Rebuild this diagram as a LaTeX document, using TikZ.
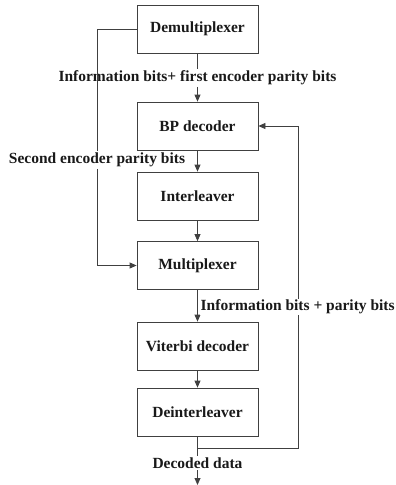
\documentclass[tikz,border=0pt]{standalone}
\usepackage{fontspec}
\setmainfont{Liberation Serif}
\usetikzlibrary{arrows.meta}
\begin{document}
\begin{tikzpicture}[x=1pt,y=-1pt,
 txt/.style={font=\fontsize{15.5}{18}\selectfont\bfseries, text=black!90},
 box/.style={txt, draw=black!75, line width=0.8pt, minimum width=121pt, minimum height=48pt, inner sep=0pt},
 lbl/.style={txt, inner sep=1.5pt},
 conn/.style={draw=black!75, line width=0.8pt},
 arr/.style={conn, -{Triangle[length=7pt,width=6pt]}}]
\useasboundingbox (0,0) rectangle (396,485);
\node[box] (demux) at (197.5,29) {Demultiplexer};
\node[box] (bp) at (197.5,126) {BP decoder};
\node[box] (inter) at (197.5,196) {Interleaver};
\node[box] (mux) at (197.5,265.5) {Multiplexer};
\node[box] (vit) at (197.5,346) {Viterbi decoder};
\node[box] (deint) at (197.5,412) {Deinterleaver};
% labels
\node[lbl] (l1) at (197.5,78) {Information bits+ first encoder parity bits};
\node[lbl] (l2) at (97,160) {Second encoder parity bits};
\node[lbl] (l4) at (197.5,463) {Decoded data};
\coordinate (fb) at (298,448);
\coordinate (out) at (197.5,485);
\coordinate (lc) at (97,29);
% main chain
\draw[conn] (demux.south) -- (l1.north);
\draw[arr] (l1.south) -- (bp.north);
\draw[arr] (bp.south) -- (inter.north);
\draw[arr] (inter.south) -- (mux.north);
\draw[arr] (mux.south) -- (vit.north);
\draw[arr] (vit.south) -- (deint.north);
% feedback
\draw[arr] (deint.south) |- (fb) |- (bp.east);
\draw[conn] (deint.south) -- (l4.north);
\draw[arr] (l4.south) -- (out);
% left bypass
\draw[conn] (demux.west) -- (lc) -- (l2.north);
\draw[arr] (l2.south) |- (mux.west);
% label over feedback line
\node[lbl, fill=white, anchor=west, inner sep=1pt] (l3) at (199.5,307) {Information bits + parity bits};
\end{tikzpicture}
\end{document}
